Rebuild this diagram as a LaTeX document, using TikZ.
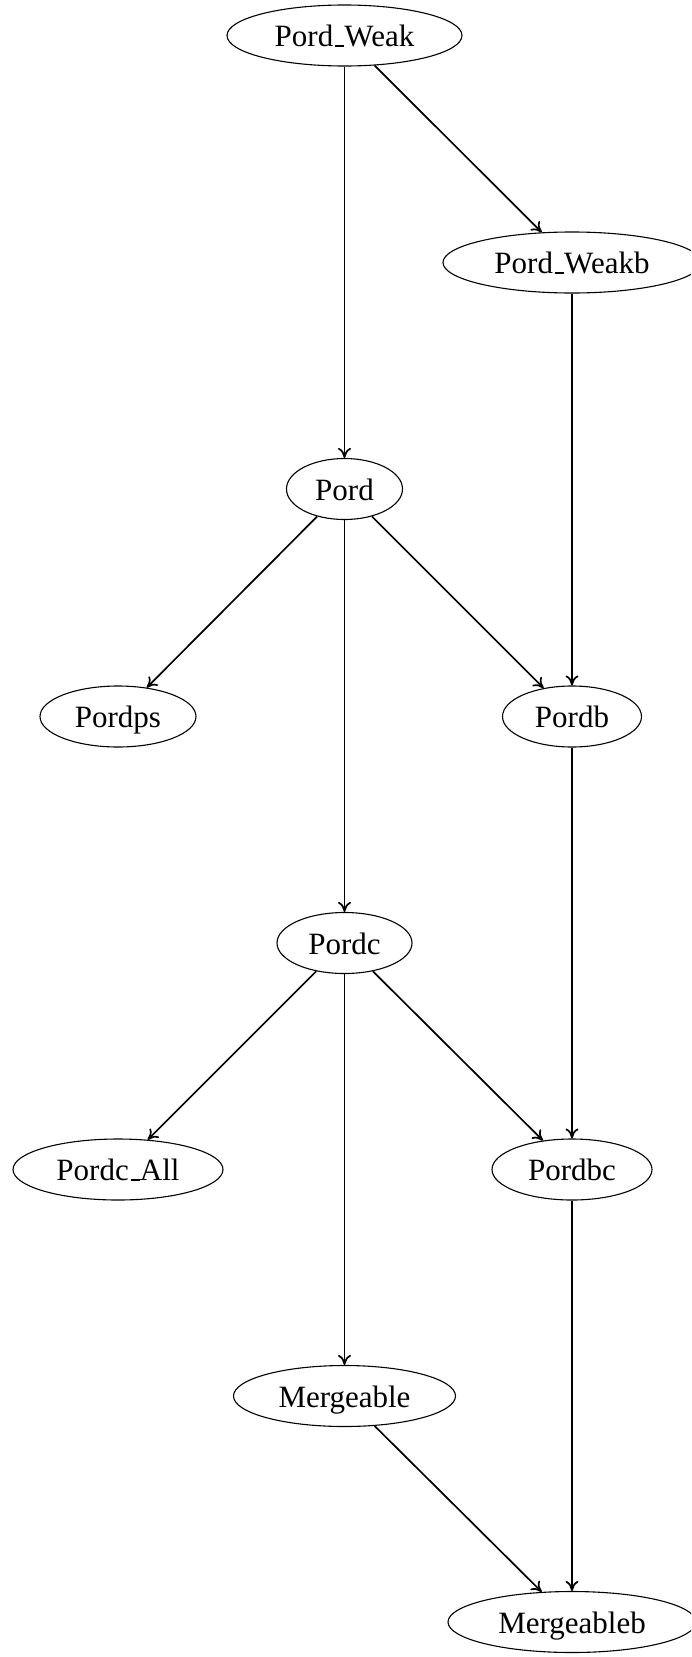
\documentclass[tikz,border=0pt]{standalone}
\usepackage{fontspec}
\setmainfont{Liberation Serif}
\usetikzlibrary{shapes.geometric,arrows.meta}
% a short baseline rule used as the underscore in class names
\newcommand{\lowbar}{\leavevmode\kern.06em\vbox{\hrule height 1.3pt width .3em}}
\begin{document}
\begin{tikzpicture}[x=1pt,y=-1pt,
  cls/.style={draw,ellipse,line width=1.1pt,inner sep=0pt,
    minimum height=61pt,text height=22pt,text depth=0pt,
    font=\fontsize{31}{36}\selectfont},
  dep/.style={line width=1.7pt,-{To[length=10pt,width=13pt]}}]
\clip (0,0) rectangle (691,1657);
% middle column
\node[cls,minimum width=235pt] (pw)  at (344.5,35.5) {Pord\lowbar Weak};
\node[cls,minimum width=116pt] (p)   at (344.5,489)  {Pord};
\node[cls,minimum width=135pt] (pc)  at (344.5,943)  {Pordc};
\node[cls,minimum width=222pt] (m)   at (344.5,1396) {Mergeable};
% right column
\node[cls,minimum width=258pt] (pwb) at (572,262.5)  {Pord\lowbar Weakb};
\node[cls,minimum width=139pt] (pb)  at (572,716.5)  {Pordb};
\node[cls,minimum width=160pt] (pbc) at (572,1169.5) {Pordbc};
\node[cls,minimum width=248pt] (mb)  at (572,1622)   {Mergeableb};
% left column
\node[cls,minimum width=156pt] (pps) at (118,716.5)  {Pordps};
\node[cls,minimum width=210pt] (pca) at (118,1169.5) {Pordc\lowbar All};
% dependencies
\draw[dep] (pw)  -- (pwb);
\draw[dep] (pw)  -- (p);
\draw[dep] (pwb) -- (pb);
\draw[dep] (p)   -- (pps);
\draw[dep] (p)   -- (pb);
\draw[dep] (p)   -- (pc);
\draw[dep] (pb)  -- (pbc);
\draw[dep] (pc)  -- (pca);
\draw[dep] (pc)  -- (pbc);
\draw[dep] (pc)  -- (m);
\draw[dep] (pbc) -- (mb);
\draw[dep] (m)   -- (mb);
\end{tikzpicture}
\end{document}
